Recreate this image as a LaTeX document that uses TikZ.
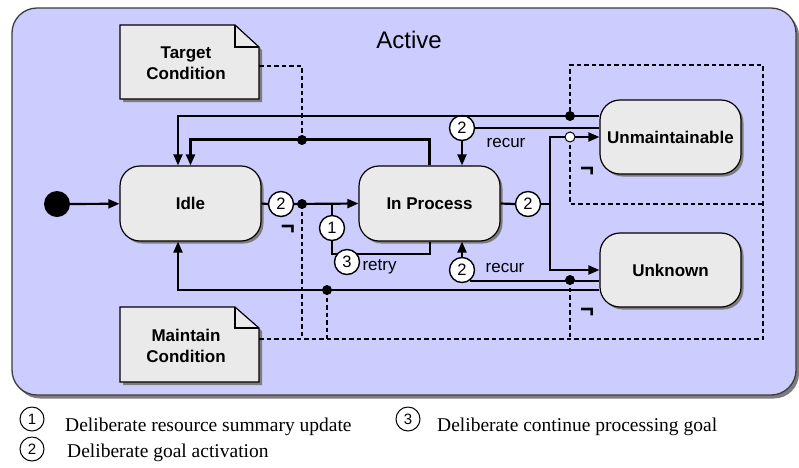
\documentclass[tikz,border=0pt]{standalone}
\usepackage{fontspec}
\setmainfont{Liberation Serif}
\setsansfont{Liberation Sans}
\usetikzlibrary{arrows.meta,shadows,calc}
\definecolor{framefill}{RGB}{204,204,255}
\definecolor{boxfill}{RGB}{234,234,234}
\definecolor{shadowc}{RGB}{125,125,125}
\definecolor{framedraw}{RGB}{60,60,60}
\begin{document}
\begin{tikzpicture}[x=1pt,y=1pt,
  state/.style={draw=black, line width=1.2pt, fill=boxfill, rounded corners=20pt,
    minimum width=141pt, minimum height=75pt,
    font=\sffamily\bfseries\fontsize{17}{20}\selectfont,
    drop shadow={shadow xshift=2.5pt, shadow yshift=-2.5pt, fill=shadowc, opacity=1}},
  notetext/.style={align=center, inner sep=0pt, font=\sffamily\bfseries\fontsize{17}{21}\selectfont},
  badge/.style={circle, draw, fill=white, line width=1.4pt, minimum size=25pt, inner sep=0pt,
    font=\sffamily\fontsize{16.5}{16.5}\selectfont},
  lbadge/.style={circle, draw, fill=white, line width=1pt, minimum size=24pt, inner sep=0pt,
    font=\sffamily\fontsize{15}{15}\selectfont},
  conn/.style={line width=2.2pt},
  arr/.style={conn, -{Triangle[length=11pt,width=9pt]}},
  dsh/.style={line width=1.7pt, dash pattern=on 4.5pt off 3pt},
  jdot/.style={circle, fill=black, inner sep=0pt, minimum size=10pt},
  odot/.style={circle, fill=white, draw=black, line width=1pt, inner sep=0pt, minimum size=10pt},
  lbl/.style={font=\sffamily\fontsize{17}{20}\selectfont},
  neg/.style={font=\sffamily\bfseries\fontsize{24}{24}\selectfont},
  legend/.style={font=\fontsize{19.5}{22}\selectfont, anchor=base west, inner sep=0pt},
]
\useasboundingbox (0,0) rectangle (799,-467);

% frame
\fill[shadowc, rounded corners=25pt] (15,-11) rectangle (799,-398.5);
\draw[framedraw, fill=framefill, line width=1.3pt, rounded corners=25pt] (12,-8) rectangle (796,-395);
\node[font=\sffamily\fontsize{24}{24}\selectfont] (act) at (409,-40) {Active};

% notes
\fill[shadowc] (123,-28) -- (238,-28) -- (262,-50) -- (262,-102) -- (123,-102) -- cycle;
\draw[fill=boxfill, line width=1.2pt] (120,-25) -- (235,-25) -- (259,-47) -- (259,-99) -- (120,-99) -- cycle;
\draw[line width=1.2pt] (235,-25) -- (235,-47) -- (259,-47);
\node[notetext] (tc) at (186,-63.5) {Target\\Condition};
\coordinate (tcR) at (259,-66);

\fill[shadowc] (123,-310) -- (238,-310) -- (262,-331) -- (262,-385) -- (123,-385) -- cycle;
\draw[fill=boxfill, line width=1.2pt] (120,-307) -- (235,-307) -- (259,-328) -- (259,-382) -- (120,-382) -- cycle;
\draw[line width=1.2pt] (235,-307) -- (235,-328) -- (259,-328);
\node[notetext] (mc) at (186,-345.5) {Maintain\\Condition};
\coordinate (mcR) at (259,-339);

% states
\node[state] (idle) at (190.5,-203.5) {Idle};
\node[state] (ip) at (429.5,-203.5) {In Process};
\node[state, minimum height=74pt] (um) at (670.5,-137) {Unmaintainable};
\node[state, minimum height=74pt] (uk) at (670.5,-270) {Unknown};
\node[circle, fill=black, minimum size=26pt, inner sep=0pt] (init) at (57,-204) {};

% junction coordinates
\coordinate (c1) at (302,-204);
\coordinate (c2) at (302,-140);
\coordinate (c3) at (570,-116);
\coordinate (c4) at (570,-137);
\coordinate (c5) at (570,-280);
\coordinate (c6) at (327,-290);
\coordinate (j1) at (332,-204);
\coordinate (j2) at (550,-204);
\coordinate (rt) at (430,-254);

% badges
\node[badge] (b2a) at (281,-204) {2};
\node[badge] (b1) at (332,-228) {1};
\node[badge] (b2c) at (462,-128) {2};
\node[badge] (b2d) at (528,-204) {2};
\node[badge] (b2e) at (462,-270) {2};

% dashed condition lines
\draw[dsh] (tcR) -| (c2);
\draw[dsh] (mcR) -- (763,-339) -- (763,-65) -| (c3);
\draw[dsh] (c4) -- (570,-204) -- (763,-204);
\draw[dsh] (c1) -- (c1 |- mcR);
\draw[dsh] (c6) -- (c6 |- mcR);
\draw[dsh] (c5) -- (c5 |- mcR);

% solid connectors
\draw[arr] (init) -- (idle);
\draw[conn] (idle.east) -- (b2a.west);
\draw[arr] (b2a.east) -- (ip.west);
\draw[conn] (j1) -- (b1.north);
\draw[conn] (b1.south) |- (rt) -- (rt |- ip.south);
\draw[arr] ([yshift=21pt]um.west) -| ([xshift=-12.5pt]idle.north);
\draw[arr] (ip.north) -- ++(0,26) -| (idle.north);
\draw[conn] ([yshift=9pt]um.west) -- (b2c.east);
\draw[arr] (b2c.south) -- (b2c.south |- ip.north);
\draw[conn] (ip.east) -- (b2d.west);
\draw[conn] (b2d.east) -- (j2);
\draw[arr] (j2) |- (um.west);
\draw[arr] (j2) |- (uk.west);
\draw[conn] (b2e.-55) -- (b2e.-55 -| uk.west);
\draw[arr] (b2e.north) -- (b2e.north |- ip.south);
\draw[arr] ([yshift=-20pt]uk.west) -| ([xshift=-12.5pt]idle.south);

\node[badge] (b3) at (347,-262) {3};

% dots
\node[jdot] (d1) at (c1) {};
\node[jdot] (d2) at (c2) {};
\node[jdot] (d3) at (c3) {};
\node[odot] (d4) at (c4) {};
\node[jdot] (d5) at (c5) {};
\node[jdot] (d6) at (c6) {};

% labels
\node[lbl] (r1) at (506,-143) {recur};
\node[lbl] (r2) at (505,-268) {recur};
\node[lbl, anchor=west] (r3) at (359,-267) {retry};
\node[neg] (n1) at (288,-230) {¬};
\node[neg] (n2) at (587,-172) {¬};
\node[neg] (n3) at (587,-313) {¬};

% legend
\node[lbadge] (l1) at (32,-419) {1};
\node[legend] (lt1) at (65,-431) {Deliberate resource summary update};
\node[lbadge] (l2) at (32,-449) {2};
\node[legend] (lt2) at (67,-457) {Deliberate goal activation};
\node[lbadge] (l3) at (408,-419) {3};
\node[legend] (lt3) at (437,-431) {Deliberate continue processing goal};
\end{tikzpicture}
\end{document}
